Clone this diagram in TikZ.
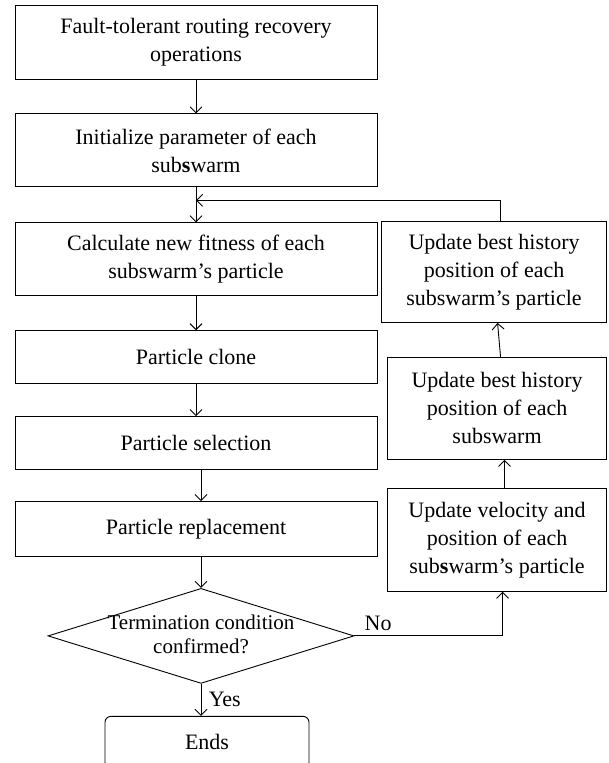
\documentclass[tikz,border=0pt]{standalone}
\usepackage{fontspec}
\setmainfont{Liberation Serif}
\usetikzlibrary{arrows.meta}
\usetikzlibrary{positioning}
\usetikzlibrary{shapes}
\tikzset{
  every node/.style={font=\fontsize{22}{28}\selectfont, align=center},
  box/.style={draw, line width=0.9pt, inner sep=0pt, minimum width=362pt},
  sidebox/.style={draw, line width=0.9pt, inner sep=0pt, minimum width=219pt},
  decision/.style={draw, diamond, aspect=3.2, line width=0.9pt, inner sep=0pt,
    minimum width=306pt, minimum height=95pt},
  term/.style={draw, rounded corners=6pt, line width=0.9pt,
    minimum width=204pt, minimum height=52pt},
  arrow/.style={-{Straight Barb[length=6pt,width=12pt]}, line width=0.9pt}
}

\begin{document}
\begin{tikzpicture}
    \useasboundingbox (0,0) rectangle (608pt,-763pt);

    % main column
    \node [box, minimum height=74pt] (fault) at (196pt,-42pt)
          {Fault-tolerant routing recovery\\operations};
    \node [box, minimum height=73pt, below=34pt of fault] (init)
          {Initialize parameter of each\\sub\textbf{s}warm};
    \node [box, minimum height=73pt, below=35pt of init] (calc)
          {Calculate new fitness of each\\subswarm’s particle};
    \node [box, minimum height=53pt, below=34pt of calc] (clone) {Particle clone};
    \node [box, minimum height=53pt, below=32pt of clone] (select) {Particle selection};
    \node [box, minimum height=55pt, below=31pt of select] (replace) {Particle replacement};
    \node [decision, below=31pt of replace, xshift=5pt] (cond) {};
    \node [font=\fontsize{21}{24}\selectfont, yshift=2pt] (condtext) at (cond)
          {Termination condition\\confirmed?};
    \node [term, below=32pt of cond, xshift=6pt] (ends) {Ends};

    % update loop
    \node [sidebox, minimum width=225pt, minimum height=101pt, anchor=north east]
          (hist) at (607pt,-221pt)
          {Update best history\\position of each\\subswarm’s particle};
    \node [sidebox, minimum height=102pt, below left=34pt and 0pt of hist.south east]
          (best) {Update best history\\position of each\\subswarm};
    \node [sidebox, minimum height=103pt, below left=28pt and 0pt of best.south east]
          (vel) {Update velocity and\\position of each\\sub\textbf{s}warm’s particle};

    \coordinate (join) at ([yshift=-13pt]init.south);

    \draw [arrow] (fault) -- (init);
    \draw [arrow] (init) -- (calc);
    \draw [arrow] (calc) -- (clone);
    \draw [arrow] (clone) -- (select);
    \draw [arrow] (select.south -| cond) -- (replace.north -| cond);
    \draw [arrow] (replace.south -| cond) -- (cond.north);
    \draw [arrow] (cond.south) -- (cond.south |- ends.north)
          node [midway, right=4pt] {Yes};
    \draw [arrow] (cond.east) -| ([xshift=5.5pt]vel.south)
          node [pos=0.08, above=1pt] {No};
    \draw [arrow] ([xshift=7.5pt]vel.north) -- ([xshift=7.5pt]best.south);
    \draw [arrow] ([xshift=3.5pt]best.north) -- ([xshift=3.5pt]hist.south);
    \draw [arrow] ([xshift=6.5pt]hist.north) |- (join);
\end{tikzpicture}
\end{document}
